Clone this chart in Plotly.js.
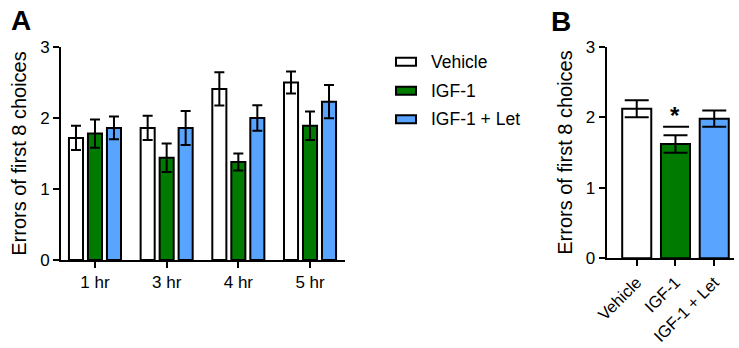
<!DOCTYPE html>
<html>
<head>
<meta charset="utf-8">
<script src="https://cdn.plot.ly/plotly-3.0.1.min.js"></script>
<style>html,body{margin:0;padding:0;background:#fff;}#chart{width:739px;height:348px;}</style>
</head>
<body>
<div id="chart"></div>
<script>
// Panel A data
const timepoints = ['1 hr', '3 hr', '4 hr', '5 hr'];
const seriesNames = ['Vehicle', 'IGF-1', 'IGF-1 + Let'];
const vehicleA = [1.72, 1.86, 2.41, 2.50];
const vehicleAErr = [0.17, 0.17, 0.235, 0.155];
const igfA = [1.78, 1.44, 1.38, 1.89];
const igfAErr = [0.20, 0.20, 0.12, 0.20];
const letA = [1.86, 1.86, 2.00, 2.23];
const letAErr = [0.16, 0.24, 0.18, 0.235];

// Panel B data
const groupsB = ['Vehicle', 'IGF-1', 'IGF-1 + Let'];
const valuesB = [2.12, 1.62, 1.98];
const errB = [0.12, 0.125, 0.115];

const yTicks = [0, 1, 2, 3];
const yTitle = 'Errors of first 8 choices';

const colors = ['#ffffff', '#007a00', '#58a4ff'];
const font = 'Liberation Sans, Arial, sans-serif';
const W = 739, H = 348;
const px = v => v / W;
const py = v => 1 - v / H;

function barA(name, y, err, color) {
  return {
    type: 'bar', x: timepoints, y: y, name: name,
    xaxis: 'x', yaxis: 'y',
    marker: {color: color, line: {color: '#000', width: 2}},
    error_y: {type: 'data', array: err, visible: true, color: '#000', thickness: 2, width: 5},
    showlegend: false, hoverinfo: 'skip'
  };
}

const data = [
  barA(seriesNames[0], vehicleA, vehicleAErr, colors[0]),
  barA(seriesNames[1], igfA, igfAErr, colors[1]),
  barA(seriesNames[2], letA, letAErr, colors[2]),
  {
    type: 'bar', x: groupsB, y: valuesB, xaxis: 'x2', yaxis: 'y2',
    width: 0.75,
    marker: {color: colors, line: {color: '#000', width: 2}},
    error_y: {type: 'data', array: errB, visible: true, color: '#000', thickness: 2, width: 12},
    showlegend: false, hoverinfo: 'skip'
  }
];

const axisCommon = {
  showgrid: false, zeroline: false, showline: true, linecolor: '#000', linewidth: 2,
  ticks: 'outside', ticklen: 6, tickwidth: 2, tickcolor: '#000',
  tickfont: {family: font, size: 17, color: '#000'}, automargin: false, fixedrange: true
};

// legend drawn as shapes + annotations
const legendShapes = [];
const legendAnn = [];
const legRows = [61.7, 90.7, 119.3];
seriesNames.forEach((n, i) => {
  legendShapes.push({
    type: 'rect', xref: 'paper', yref: 'paper',
    x0: px(396), x1: px(416), y0: py(legRows[i] + 4), y1: py(legRows[i] - 4),
    fillcolor: colors[i], line: {color: '#000', width: 2}
  });
  legendAnn.push({
    xref: 'paper', yref: 'paper', x: px(429), y: py(legRows[i]),
    xanchor: 'left', yanchor: 'middle', text: n, showarrow: false,
    font: {family: font, size: 17.5, color: '#000'}
  });
});

const layout = {
  width: W, height: H,
  margin: {l: 0, r: 0, t: 0, b: 0},
  paper_bgcolor: '#fff', plot_bgcolor: 'rgba(0,0,0,0)',
  barmode: 'group', bargap: 0.205, bargroupgap: 0.26,
  showlegend: false,
  xaxis: Object.assign({}, axisCommon, {
    domain: [px(61), px(345)], range: [-0.474, 3.488], type: 'category',
    anchor: 'y'
  }),
  yaxis: Object.assign({}, axisCommon, {
    domain: [py(260), py(47)], range: [0, 3], tickvals: yTicks, anchor: 'x',
    title: {text: yTitle, font: {family: font, size: 20, color: '#000'}, standoff: 8}
  }),
  xaxis2: Object.assign({}, axisCommon, {
    domain: [px(606.7), px(734)], range: [-0.775, 2.51], type: 'category',
    anchor: 'y2', tickangle: -45,
    tickfont: {family: font, size: 16.5, color: '#000'}
  }),
  yaxis2: Object.assign({}, axisCommon, {
    domain: [py(258.3), py(46.7)], range: [0, 3], tickvals: yTicks, anchor: 'x2',
    title: {text: yTitle, font: {family: font, size: 20, color: '#000'}, standoff: 8}
  }),
  shapes: legendShapes.concat([
    {type: 'line', xref: 'x2', yref: 'y2', x0: 0.68, x1: 1.35, y0: 1.865, y1: 1.865,
     line: {color: '#000', width: 2}}
  ]),
  annotations: legendAnn.concat([
    {xref: 'paper', yref: 'paper', x: px(21), y: py(20), text: '<b>A</b>', showarrow: false,
     xanchor: 'center', yanchor: 'middle', font: {family: font, size: 28, color: '#000'}},
    {xref: 'paper', yref: 'paper', x: px(561), y: py(22), text: '<b>B</b>', showarrow: false,
     xanchor: 'center', yanchor: 'middle', font: {family: font, size: 28, color: '#000'}},
    {xref: 'x2', yref: 'y2', x: 1, y: 2.02, text: '<b>*</b>', showarrow: false,
     xanchor: 'center', yanchor: 'middle', font: {family: font, size: 24, color: '#000'}}
  ])
};

Plotly.newPlot('chart', data, layout, {staticPlot: true, displayModeBar: false});
</script>
</body>
</html>
